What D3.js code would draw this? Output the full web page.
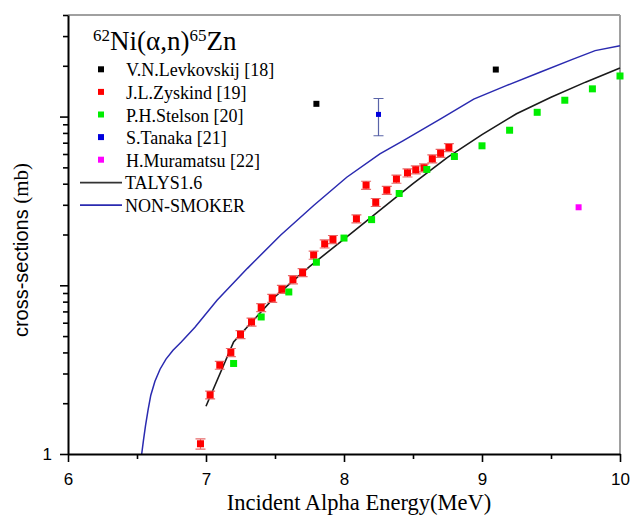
<!DOCTYPE html>
<html>
<head>
<meta charset="utf-8">
<script src="https://cdn.jsdelivr.net/npm/d3@7"></script>
<style>
  body { margin: 0; background: #fff; }
</style>
</head>
<body>
<div id="chart"></div>
<script>
// data
const levkE = [7.8, 9.1];
const levkV = [119, 190];

const zyskE = [6.96, 7.03, 7.10, 7.18, 7.25, 7.33, 7.40, 7.48, 7.55, 7.63, 7.70, 7.78, 7.86,
               7.92, 8.09, 8.16, 8.23, 8.31, 8.38, 8.46, 8.52, 8.58, 8.64, 8.70, 8.76];
const zyskV = [1.15, 2.24, 3.36, 4.0, 5.11, 6.06, 7.38, 8.38, 9.47, 10.8, 11.9, 15.1, 17.6,
               18.7, 24.8, 39.2, 31.0, 36.6, 42.6, 46.4, 48.4, 49.7, 56.2, 60.6, 65.6];
const zyskErr = [0.08, 0.12, 0.18, 0.22, 0.28, 0.33, 0.4, 0.46, 0.52, 0.6, 0.65, 0.83, 0.97,
                 1.03, 1.36, 2.16, 1.7, 2.0, 2.34, 2.55, 2.66, 2.73, 3.1, 3.33, 3.6];

const stelE = [7.2, 7.4, 7.6, 7.8, 8.0, 8.2, 8.4, 8.6, 8.8, 9.0, 9.2, 9.4, 9.6, 9.8, 10.0];
const stelV = [3.44, 6.49, 9.13, 13.7, 19.05, 24.5, 35.0, 48.6, 58.0, 67.1, 83.0, 106, 125, 146, 174];

const tanE = [8.25];
const tanV = [103];
const tanLo = [77];
const tanHi = [128];

const muraE = [9.7];
const muraV = [29];

const talysE = [7.0, 7.2, 7.5, 7.75, 8.0, 8.25, 8.5, 8.75, 9.0, 9.25, 9.5, 9.75, 10.0];
const talysV = [1.92, 4.62, 8.56, 12.9, 18.8, 27.4, 40.0, 57.3, 78.2, 104, 130, 160, 194];

const smokE = [6.534, 6.547, 6.562, 6.58, 6.60, 6.63, 6.667, 6.71, 6.761, 6.819, 6.92, 7.08,
               7.30, 7.54, 7.78, 8.02, 8.26, 8.43, 8.70, 8.94, 9.18, 9.42, 9.66, 9.82, 10.0];
const smokV = [1.0, 1.21, 1.48, 1.82, 2.23, 2.70, 3.18, 3.65, 4.12, 4.60, 5.64, 8.15,
               12.6, 19.8, 29.7, 43.7, 60.1, 72.1, 96.9, 127, 153, 183, 219, 246, 263];

const xMajor = [6, 7, 8, 9, 10];
const xMinor = [6.5, 7.5, 8.5, 9.5];
const yMajor = [1, 10, 100];
const yMinor = [2, 3, 4, 5, 6, 7, 8, 9, 20, 30, 40, 50, 60, 70, 80, 90, 200, 300, 400];

const legendItems = [
  { label: "V.N.Levkovskij [18]", color: "#000000" },
  { label: "J.L.Zyskind [19]", color: "#ff0000" },
  { label: "P.H.Stelson [20]", color: "#00ee00" },
  { label: "S.Tanaka [21]", color: "#0000dd" },
  { label: "H.Muramatsu [22]", color: "#ff00ff" }
];
const legendLines = [
  { label: "TALYS1.6", color: "#333333" },
  { label: "NON-SMOKER", color: "#2a2ab0" }
];

const width = 632, height = 517;
const margin = { top: 15, right: 12, bottom: 63, left: 68 };
const serif = "'Liberation Serif', 'Times New Roman', serif";
const sans = "'Liberation Sans', Arial, sans-serif";

const svg = d3.select("#chart")
  .append("svg")
  .attr("width", width)
  .attr("height", height)
  .attr("viewBox", [0, 0, width, height]);

svg.append("rect").attr("width", width).attr("height", height).attr("fill", "#fff");

const x = d3.scaleLinear()
  .domain([6, 10])
  .range([margin.left, width - margin.right]);

const y = d3.scaleLog()
  .domain([1, 400])
  .range([height - margin.bottom, margin.top]);

const x0 = margin.left, x1 = width - margin.right;
const y0 = height - margin.bottom, y1 = margin.top;

// grey frame top and right
svg.append("line").attr("x1", x0).attr("x2", x1).attr("y1", y1).attr("y2", y1)
  .attr("stroke", "#a0a0a0").attr("stroke-width", 2);
svg.append("line").attr("x1", x1).attr("x2", x1).attr("y1", y1).attr("y2", y0)
  .attr("stroke", "#a0a0a0").attr("stroke-width", 2);

// lines
const line = d3.line()
  .x(d => x(d[0]))
  .y(d => y(d[1]));

svg.append("path")
  .datum(smokE.map((e, i) => [e, smokV[i]]))
  .attr("d", line)
  .attr("fill", "none")
  .attr("stroke", "#2a2ab0")
  .attr("stroke-width", 1.5);

svg.append("path")
  .datum(talysE.map((e, i) => [e, talysV[i]]))
  .attr("d", line)
  .attr("fill", "none")
  .attr("stroke", "#1a1a1a")
  .attr("stroke-width", 1.6);

// Zyskind with error bars
const zysk = zyskE.map((e, i) => ({ e: e, v: zyskV[i], err: zyskErr[i] }));
const zg = svg.append("g");
zg.selectAll(".ebar")
  .data(zysk)
  .enter().append("path")
  .attr("d", d => {
    const cx = x(d.e), ya = y(d.v + d.err), yb = y(d.v - d.err);
    return `M${cx},${ya}V${yb}M${cx - 5},${ya}H${cx + 5}M${cx - 5},${yb}H${cx + 5}`;
  })
  .attr("fill", "none")
  .attr("stroke", "#e86a6a")
  .attr("stroke-width", 1.2);
zg.selectAll("rect")
  .data(zysk)
  .enter().append("rect")
  .attr("x", d => x(d.e) - 3.5)
  .attr("y", d => y(d.v) - 3.5)
  .attr("width", 7)
  .attr("height", 7)
  .attr("fill", "#ff0000");

// Stelson
svg.append("g").selectAll("rect")
  .data(stelE.map((e, i) => [e, stelV[i]]))
  .enter().append("rect")
  .attr("x", d => x(d[0]) - 3.5)
  .attr("y", d => y(d[1]) - 3.5)
  .attr("width", 7)
  .attr("height", 7)
  .attr("fill", "#00ee00");

// Levkovskij
svg.append("g").selectAll("rect")
  .data(levkE.map((e, i) => [e, levkV[i]]))
  .enter().append("rect")
  .attr("x", d => x(d[0]) - 3)
  .attr("y", d => y(d[1]) - 3)
  .attr("width", 6)
  .attr("height", 6)
  .attr("fill", "#000000");

// Tanaka with error bar
const tan = tanE.map((e, i) => ({ e: e, v: tanV[i], lo: tanLo[i], hi: tanHi[i] }));
svg.append("g").selectAll("path")
  .data(tan)
  .enter().append("path")
  .attr("d", d => {
    const cx = x(d.e), ya = y(d.hi), yb = y(d.lo);
    return `M${cx},${ya}V${yb}M${cx - 5},${ya}H${cx + 5}M${cx - 5},${yb}H${cx + 5}`;
  })
  .attr("fill", "none")
  .attr("stroke", "#5a64a8")
  .attr("stroke-width", 1.2);
svg.append("g").selectAll("rect")
  .data(tan)
  .enter().append("rect")
  .attr("x", d => x(d.e) - 2.5)
  .attr("y", d => y(d.v) - 2.5)
  .attr("width", 5)
  .attr("height", 5)
  .attr("fill", "#0000dd");

// Muramatsu
svg.append("g").selectAll("rect")
  .data(muraE.map((e, i) => [e, muraV[i]]))
  .enter().append("rect")
  .attr("x", d => x(d[0]) - 3)
  .attr("y", d => y(d[1]) - 3)
  .attr("width", 6)
  .attr("height", 6)
  .attr("fill", "#ff00ff");

// axes
svg.append("g")
  .attr("transform", `translate(0,${y0})`)
  .call(d3.axisBottom(x).tickValues(xMajor).tickSize(8).tickSizeOuter(0).tickPadding(11)
    .tickFormat(d3.format("d")));
svg.append("g")
  .attr("transform", `translate(0,${y0})`)
  .call(d3.axisBottom(x).tickValues(xMinor).tickSize(5).tickSizeOuter(0).tickFormat(""))
  .call(g => g.select(".domain").remove());

svg.append("g")
  .attr("transform", `translate(${x0},0)`)
  .call(d3.axisLeft(y).tickValues(yMajor).tickSize(8).tickSizeOuter(0).tickPadding(8)
    .tickFormat(d => d === 1 ? "1" : ""));
svg.append("g")
  .attr("transform", `translate(${x0},0)`)
  .call(d3.axisLeft(y).tickValues(yMinor).tickSize(5).tickSizeOuter(0).tickFormat(""))
  .call(g => g.select(".domain").remove());

svg.selectAll(".domain").attr("stroke", "#000").attr("stroke-width", 2);
svg.selectAll(".tick line").attr("stroke", "#000").attr("stroke-width", 1.6);
svg.selectAll(".tick text")
  .attr("font-family", sans)
  .attr("font-size", "17px")
  .attr("fill", "#000");

// axis titles
svg.append("text")
  .attr("x", 359)
  .attr("y", 510)
  .attr("text-anchor", "middle")
  .attr("font-family", serif)
  .attr("font-size", "22.5px")
  .text("Incident Alpha Energy(MeV)");

const yt = svg.append("text")
  .attr("transform", "translate(28,250) rotate(-90)")
  .attr("text-anchor", "middle")
  .attr("font-size", "20px");
yt.append("tspan").attr("font-family", sans).text("cross-sections ");
yt.append("tspan").attr("font-family", serif).attr("font-size", "21px").text("(mb)");

// legend title
const title = svg.append("text")
  .attr("x", 93)
  .attr("y", 50)
  .attr("font-family", serif)
  .attr("font-size", "27px");
title.append("tspan").attr("font-size", "17px").attr("dy", -9).text("62");
title.append("tspan").attr("dy", 9).text("Ni(α,n)");
title.append("tspan").attr("font-size", "17px").attr("dy", -9).text("65");
title.append("tspan").attr("dy", 9).text("Zn");

// legend entries
const leg = svg.append("g").selectAll("g")
  .data(legendItems)
  .enter().append("g")
  .attr("transform", (d, i) => `translate(101,${69.3 + i * 22.6})`);
leg.append("rect")
  .attr("x", -3).attr("y", -3).attr("width", 6).attr("height", 6)
  .attr("fill", d => d.color);
leg.append("text")
  .attr("x", 25)
  .attr("y", 7)
  .attr("font-family", serif)
  .attr("font-size", "18px")
  .text(d => d.label);

const legL = svg.append("g").selectAll("g")
  .data(legendLines)
  .enter().append("g")
  .attr("transform", (d, i) => `translate(80,${182.7 + i * 22.5})`);
legL.append("line")
  .attr("x1", 0).attr("x2", 42)
  .attr("stroke", d => d.color)
  .attr("stroke-width", 1.8);
legL.append("text")
  .attr("x", 45)
  .attr("y", 6.5)
  .attr("font-family", serif)
  .attr("font-size", "18px")
  .text(d => d.label);
</script>
</body>
</html>
